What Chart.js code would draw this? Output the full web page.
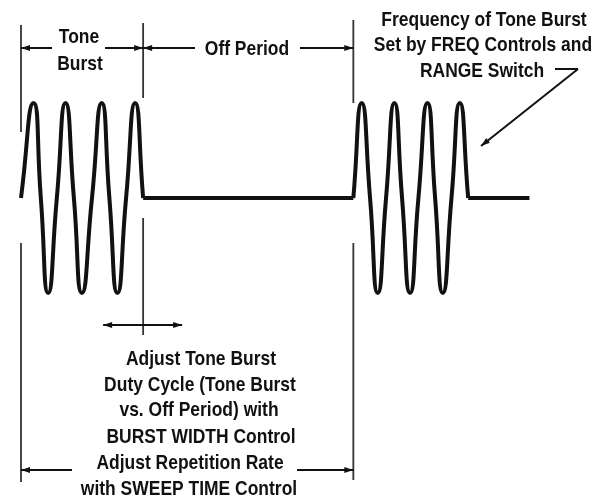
<!DOCTYPE html>
<html>
<head>
<meta charset="utf-8">
<script src="https://cdn.jsdelivr.net/npm/chart.js@4"></script>
<style>
  html, body { margin: 0; padding: 0; background: #fff; }
  #wrap { width: 606px; height: 499px; position: relative; }
</style>
</head>
<body>
<div id="wrap"><canvas id="burstChart"></canvas></div>
<script>
// --- Waveform readings (time in tone cycles, level in peak amplitude units) ---
// peaks, troughs and zero crossings of each burst
const burstTime1 = [0, 0.36, 0.57, 0.78, 1.03, 1.28, 1.52, 1.75, 2.04, 2.32, 2.54, 2.77, 3.02, 3.28, 3.51];
const burstLevel1 = [0, 1, 0, -1, 0, 1, 0, -1, 0, 1, 0, -1, 0, 1, 0];
const offTime = [3.51, 9.55];
const offLevel = [0, 0];
const burstTime2 = [9.55, 9.79, 10.03, 10.25, 10.49, 10.73, 10.95, 11.18, 11.42, 11.68, 11.90, 12.12, 12.37, 12.61, 12.85];
const burstLevel2 = [0, 1, 0, -1, 0, 1, 0, -1, 0, 1, 0, -1, 0, 1, 0];
const tailTime = [12.85, 14.61];
const tailLevel = [0, 0];

const toPoints = (xs, ys) => xs.map((x, i) => ({ x, y: ys[i] }));

const labelFont = 'bold 18px "Liberation Sans", Arial, sans-serif';
const ink = '#111';

function seg(ctx, x1, y1, x2, y2) {
    ctx.beginPath();
    ctx.moveTo(x1, y1);
    ctx.lineTo(x2, y2);
    ctx.stroke();
}

// filled arrow head with its tip at (x, y), pointing away from (fx, fy)
function head(ctx, x, y, fx, fy) {
    const a = Math.atan2(y - fy, x - fx);
    const len = 9, w = 3;
    ctx.beginPath();
    ctx.moveTo(x, y);
    ctx.lineTo(x - len * Math.cos(a) + w * Math.sin(a), y - len * Math.sin(a) - w * Math.cos(a));
    ctx.lineTo(x - len * Math.cos(a) - w * Math.sin(a), y - len * Math.sin(a) + w * Math.cos(a));
    ctx.closePath();
    ctx.fill();
}

function arrow(ctx, x1, y1, x2, y2, atStart, atEnd) {
    seg(ctx, x1, y1, x2, y2);
    if (atStart) head(ctx, x1, y1, x2, y2);
    if (atEnd) head(ctx, x2, y2, x1, y1);
}

const annotate = {
    id: 'annotate',
    beforeDraw(chart) {
        const { ctx, width, height } = chart;
        ctx.save();
        ctx.fillStyle = '#fff';
        ctx.fillRect(0, 0, width, height);
        ctx.restore();
    },
    afterDatasetsDraw(chart) {
        const { ctx, scales: { x } } = chart;
        // burst edges taken from the data
        const b0 = x.getPixelForValue(burstTime1[0]);
        const b1 = x.getPixelForValue(burstTime1[burstTime1.length - 1]);
        const b2 = x.getPixelForValue(burstTime2[0]);

        ctx.save();
        ctx.strokeStyle = '#333';
        ctx.fillStyle = ink;
        ctx.lineWidth = 1.8;

        // extension lines
        seg(ctx, b0, 25, b0, 132);
        seg(ctx, b0, 243, b0, 482);
        seg(ctx, b1, 23, b1, 98);
        seg(ctx, b1, 218, b1, 335);
        seg(ctx, b2, 20, b2, 103);
        seg(ctx, b2, 243, b2, 480);

        ctx.strokeStyle = ink;
        ctx.lineWidth = 2;
        // top dimensions
        arrow(ctx, b0, 48, 52, 48, true, false);
        arrow(ctx, 105, 48, b1, 48, false, true);
        arrow(ctx, b1, 48, 195, 48, true, false);
        arrow(ctx, 300, 48, b2, 48, false, true);
        // duty cycle adjust
        arrow(ctx, b1 - 40, 325, b1 + 39, 325, true, true);
        // repetition rate
        arrow(ctx, b0, 470, 72, 470, true, false);
        arrow(ctx, 297, 470, b2, 470, false, true);
        // frequency pointer
        seg(ctx, 555, 69, 578, 69);
        arrow(ctx, 578, 69, 481, 146, false, true);

        ctx.font = labelFont;
        ctx.textAlign = 'center';
        ctx.textBaseline = 'alphabetic';
        const texts = [
            ['Tone', 79, 43],
            ['Burst', 80, 70],
            ['Off Period', 247, 55],
            ['Frequency of Tone Burst', 484, 26],
            ['Set by FREQ Controls and', 483, 51],
            ['RANGE Switch', 482, 77],
            ['Adjust Tone Burst', 201, 365],
            ['Duty Cycle (Tone Burst', 200, 391],
            ['vs. Off Period) with', 199, 416],
            ['BURST WIDTH Control', 201, 443],
            ['Adjust Repetition Rate', 190, 469],
            ['with SWEEP TIME Control', 189, 495]
        ];
        // the original lettering is a tall, condensed bold face
        texts.forEach(([t, tx, ty]) => {
            ctx.save();
            ctx.translate(tx, ty);
            ctx.scale(0.97, 1.15);
            ctx.fillText(t, 0, 0);
            ctx.restore();
        });
        ctx.restore();
    }
};

const waveStyle = {
    borderColor: ink,
    borderWidth: 4,
    pointRadius: 0,
    fill: false,
    clip: false
};

new Chart(document.getElementById('burstChart'), {
    type: 'line',
    data: {
        datasets: [
            { ...waveStyle, label: 'Burst 1', data: toPoints(burstTime1, burstLevel1), tension: 0.6 },
            { ...waveStyle, label: 'Off', data: toPoints(offTime, offLevel), tension: 0 },
            { ...waveStyle, label: 'Burst 2', data: toPoints(burstTime2, burstLevel2), tension: 0.6 },
            { ...waveStyle, label: 'Tail', data: toPoints(tailTime, tailLevel), tension: 0 }
        ]
    },
    options: {
        responsive: true,
        maintainAspectRatio: false,
        animation: false,
        layout: { padding: 0 },
        plugins: {
            legend: { display: false },
            tooltip: { enabled: false }
        },
        scales: {
            x: { type: 'linear', min: -0.603, max: 16.81, display: false },
            y: { type: 'linear', min: -3.168, max: 2.084, display: false }
        }
    },
    plugins: [annotate]
});
</script>
</body>
</html>
